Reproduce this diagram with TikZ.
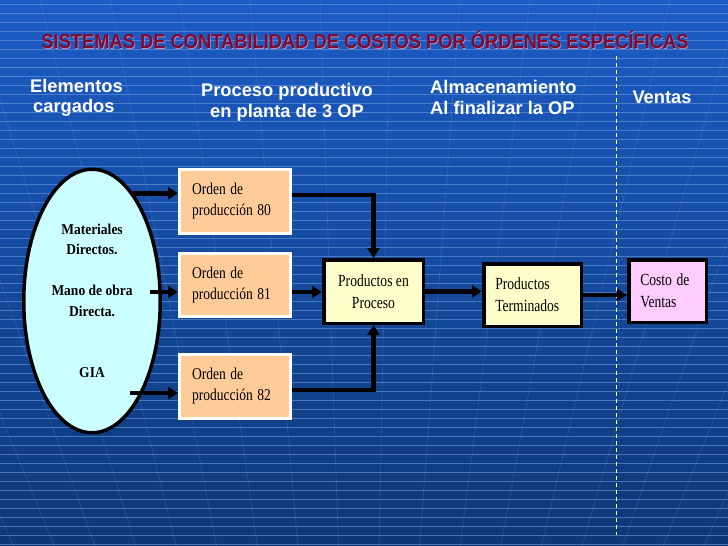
\documentclass[tikz,border=0pt]{standalone}
\usepackage{fontspec}
\setmainfont{Liberation Serif}
\newfontfamily\hsans{Liberation Sans}
\usetikzlibrary{arrows.meta,shapes.geometric}

\definecolor{bgtop}{RGB}{28,92,198}
\definecolor{bgmid}{RGB}{22,78,168}
\definecolor{bgbot}{RGB}{12,56,118}
\definecolor{peach}{RGB}{255,204,153}
\definecolor{lyellow}{RGB}{255,255,204}
\definecolor{lpink}{RGB}{255,204,255}
\definecolor{lcyan}{RGB}{204,255,255}
\definecolor{titlered}{RGB}{125,10,48}
\definecolor{titleshade}{RGB}{190,140,185}
\definecolor{gridline}{RGB}{120,160,225}

\newcommand\cnd[2][0.8]{\scalebox{#1}[1]{#2}}

\begin{document}
\begin{tikzpicture}[x=1pt,y=-1pt,
  conn/.style={line width=4.5pt, -{Triangle[length=10pt,width=12pt]}},
  ordbox/.style={draw=white, line width=3pt, fill=peach, minimum width=111pt,
    minimum height=64pt, inner xsep=12.5pt, inner ysep=0pt, text width=86pt,
    align=left, font=\fontsize{16.5}{21}\selectfont},
  flowbox/.style={draw=black, line width=3.5pt, inner ysep=0pt,
    font=\fontsize{17}{22}\selectfont},
  hdr/.style={text=white, font=\hsans\bfseries\fontsize{18.3}{20.5}\selectfont, inner sep=0pt},
  ttl/.style={font=\hsans\bfseries\fontsize{18.3}{20}\selectfont, inner sep=0pt},
]
\useasboundingbox (0,0) rectangle (728,546);
% background
\shade[top color=bgtop, middle color=bgmid, bottom color=bgbot] (0,0) rectangle (728,546);
\begin{scope}
  \clip (0,0) rectangle (728,546);
  \foreach \xx in {-520,-450,...,1260}
    \draw[gridline, opacity=0.2, line width=0.8pt] (\xx,0) -- (364,1300);
  \foreach \yy in {4,13,...,546}
    \draw[gridline, opacity=0.55, line width=0.7pt] (0,\yy) -- (728,\yy);
\end{scope}

% title
\node[ttl, text=titleshade] (titleshadow) at (365.7,40.7)
  {\scalebox{1}[1.1]{SISTEMAS DE CONTABILIDAD DE COSTOS POR ÓRDENES ESPECÍFICAS}};
\node[ttl, text=titlered] (title) at (365,40)
  {\scalebox{1}[1.1]{SISTEMAS DE CONTABILIDAD DE COSTOS POR ÓRDENES ESPECÍFICAS}};

% column headers
\node[hdr, align=left, anchor=west] (h1) at (30,98) {Elementos\\\hspace{3pt}cargados};
\node[hdr, align=center] (h2) at (287,102.5) {Proceso productivo\\ en planta de 3 OP};
\node[hdr, align=left, anchor=west] (h3) at (430,97.5) {Almacenamiento\\Al finalizar la OP};
\node[hdr] (h4) at (662,97) {Ventas};

% dashed separator
\draw[white, line width=1pt, dash pattern=on 4pt off 3pt] (616,56) -- (616,535);

% ellipse
\node[ellipse, draw=black, line width=3.5pt, fill=lcyan, minimum width=136.5pt,
  minimum height=263.5pt, inner sep=0pt, align=center,
  font=\bfseries\fontsize{15}{20.5}\selectfont] (ell) at (92,301)
  {\cnd[0.9]{Materiales}\\\cnd[0.9]{Directos.}\\[20.5pt]\cnd[0.9]{Mano de obra}\\\cnd[0.9]{Directa.}\\[41pt]\cnd[0.9]{GIA}};

% orders
\node[ordbox] (o1) at (235,201.5) {\cnd[0.82]{Orden de}\\\cnd[0.82]{producción 80}};
\node[ordbox, minimum height=63pt] (o2) at (235,285) {\cnd[0.82]{Orden de}\\\cnd[0.82]{producción 81}};
\node[ordbox] (o3) at (235,386.5) {\cnd[0.82]{Orden de}\\\cnd[0.82]{producción 82}};

% flow boxes
\node[flowbox, fill=lyellow, minimum width=99.5pt, minimum height=63.5pt, align=center]
  (pep) at (373.5,291.5) {\cnd{Productos en}\\\cnd{Proceso}};
\node[flowbox, fill=lyellow, minimum width=97.5pt, minimum height=62.5pt,
  text width=74.5pt, inner xsep=11.5pt, align=left]
  (pt) at (532.5,295) {\cnd{Productos}\\\cnd{Terminados}};
\node[flowbox, fill=lpink, minimum width=77.5pt, minimum height=62.5pt,
  text width=54.5pt, inner xsep=11.5pt, align=left]
  (cdv) at (667.5,291) {\cnd{Costo de}\\\cnd{Ventas}};

% connectors from ellipse
\draw[conn] (ell.69) -- (ell.69 -| o1.west);
\coordinate (s2) at ([xshift=58pt,yshift=9pt]ell.center);
\draw[conn] (s2) -- (s2 -| o2.west);
\coordinate (s3) at ([xshift=38pt,yshift=-92pt]ell.center);
\draw[conn] (s3) -- (s3 -| o3.west);

% connectors to products in process
\coordinate (t1) at ([yshift=6.5pt]o1.east);
\draw[conn] (t1) -| (pep.north);
\coordinate (t2) at ([yshift=-7pt]o2.east);
\draw[conn] (t2) -- (t2 -| pep.west);
\coordinate (t3) at ([yshift=-3.5pt]o3.east);
\draw[conn] (t3) -| (pep.south);

\draw[conn] (pep.east) -- (pep.east -| pt.west);
\draw[conn] (pt.east) -- (pt.east -| cdv.west);
\end{tikzpicture}
\end{document}
